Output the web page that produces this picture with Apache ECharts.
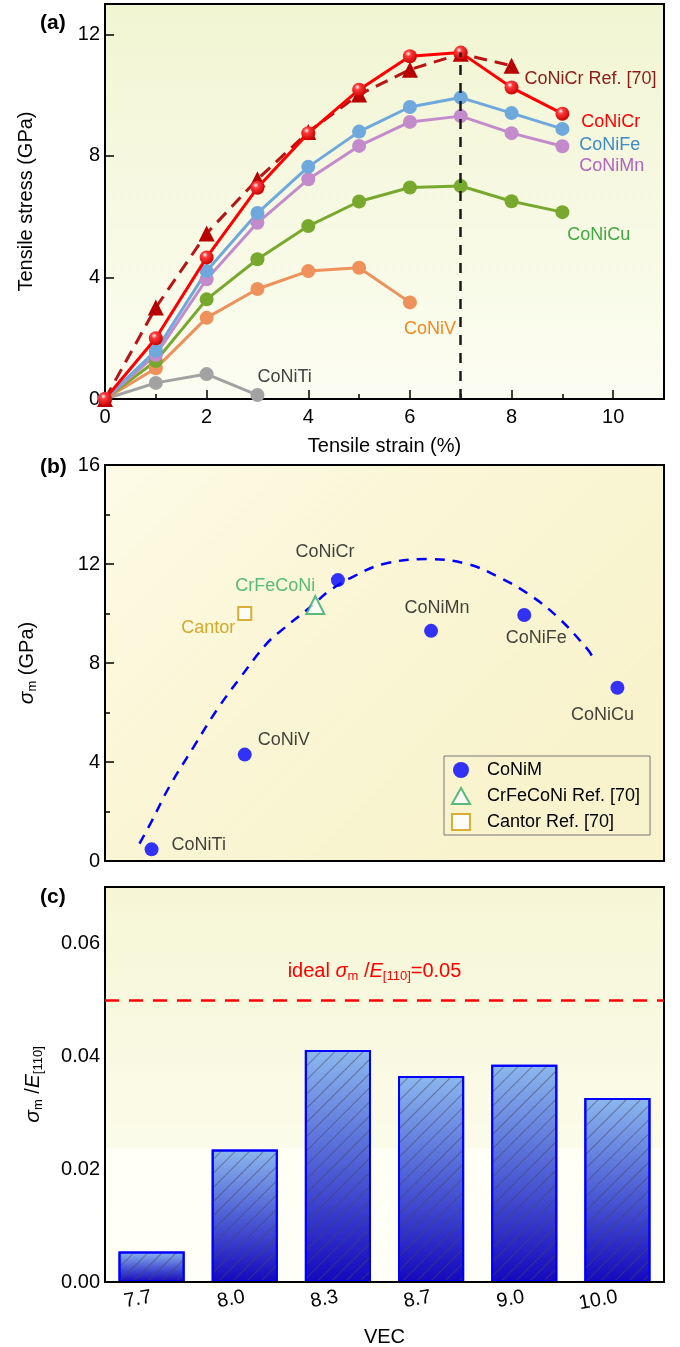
<!DOCTYPE html>
<html>
<head>
<meta charset="utf-8">
<script src="https://cdn.jsdelivr.net/npm/echarts@6/dist/echarts.min.js"></script>
<style>
  html, body { margin: 0; padding: 0; background: #ffffff; }
  #chart { width: 680px; height: 1347px; }
</style>
</head>
<body>
<div id="chart"></div>
<script>
// ---------- (a) tensile stress–strain curves ----------
const strain = [0, 1, 2, 3, 4, 5, 6, 7, 8, 9];
const stressCoNiCr    = [0, 2.00, 4.66, 6.95, 8.75, 10.18, 11.28, 11.40, 10.25, 9.39];
const stressCoNiCrRef = [0, 3.01, 5.45, 7.23, 8.79, 10.02, 10.84, 11.36, 10.97];
const stressCoNiFe    = [0, 1.59, 4.21, 6.12, 7.64, 8.80, 9.61, 9.92, 9.41, 8.89];
const stressCoNiMn    = [0, 1.45, 3.94, 5.80, 7.23, 8.33, 9.12, 9.31, 8.75, 8.32];
const stressCoNiCu    = [0, 1.25, 3.28, 4.60, 5.69, 6.50, 6.96, 7.01, 6.51, 6.15];
const stressCoNiV     = [0, 1.01, 2.67, 3.62, 4.21, 4.32, 3.18];
const stressCoNiTi    = [0, 0.53, 0.82, 0.13];
const peakStrain = 7;

// ---------- (b) maximum stress vs VEC ----------
const vecLabels = ['7.7', '8.0', '8.3', '8.7', '9.0', '10.0'];
const vecValues = [7.67, 8.0, 8.33, 8.67, 9.0, 10.0];
const alloyNames = ['CoNiTi', 'CoNiV', 'CoNiCr', 'CoNiMn', 'CoNiFe', 'CoNiCu'];
const sigmaMax = [0.47, 4.30, 11.35, 9.30, 9.94, 7.00];
const crFeCoNiVec = 8.25, crFeCoNiSigma = 10.34;
const cantorVec = 8.0, cantorSigma = 10.0;
// fitted trend, sampled along the VEC slots
const fitSlot  = [-0.13, 0.0, 0.19, 0.45, 0.70, 0.95, 1.24, 1.42, 1.75, 1.90, 2.17, 2.49, 2.96, 3.39, 3.71, 4.04, 4.36, 4.68, 4.74];
const fitSigma = [0.70, 1.60, 3.00, 4.60, 6.10, 7.40, 8.80, 9.40, 10.40, 10.90, 11.50, 12.00, 12.20, 12.00, 11.50, 10.80, 9.85, 8.55, 8.20];

// ---------- (c) sigma_m / E[110] ----------
const strengthRatio = [0.0054, 0.0235, 0.0411, 0.0365, 0.0385, 0.0326];
const idealRatio = 0.05;

const FONT = 'Arial, "Liberation Sans", Helvetica, sans-serif';

// position of a VEC value along the evenly spaced VEC slots
function vecSlot(v) {
  for (let i = 0; i < vecValues.length - 1; i++) {
    if (v <= vecValues[i + 1]) {
      return i + (v - vecValues[i]) / (vecValues[i + 1] - vecValues[i]);
    }
  }
  return vecValues.length - 1;
}

function grad(x2, y2, stops) {
  return { type: 'linear', x: 0, y: 0, x2: x2, y2: y2,
           colorStops: stops.map(s => ({ offset: s[0], color: s[1] })) };
}

const tickLine = { color: '#000', width: 1.5 };
const axisLineBlack = { show: true, onZero: false, lineStyle: { color: '#000', width: 2 } };
const noAxisLine = { show: false, onZero: false };
const tickLabel = { color: '#000', fontSize: 20, fontFamily: FONT };
const nameStyle = { color: '#000', fontSize: 20, fontFamily: FONT };
const subRich = {
  n: { color: '#000', fontSize: 20, fontFamily: FONT, lineHeight: 24 },
  i: { color: '#000', fontSize: 21, fontFamily: FONT, fontStyle: 'italic', lineHeight: 24 },
  s: { color: '#000', fontSize: 13, fontFamily: FONT, lineHeight: 14, padding: [10, 0, 0, 0] }
};

// ---------- (a) series ----------
const sphereRed = {
  type: 'radial', x: 0.38, y: 0.32, r: 0.7,
  colorStops: [
    { offset: 0, color: '#ffffff' },
    { offset: 0.28, color: '#ff3a3a' },
    { offset: 1, color: '#c80000' }
  ]
};

// curves with their name printed next to the last point
function curve(name, ys, cfg) {
  const data = ys.map((y, i) => [strain[i], y]);
  const last = data.length - 1;
  data[last] = {
    value: data[last],
    label: {
      show: true, position: 'right', distance: 0,
      offset: cfg.labelOffset, formatter: name,
      color: cfg.textColor, fontSize: 18, fontFamily: FONT
    }
  };
  return {
    type: 'line', name: name, xAxisIndex: 1, yAxisIndex: 0,
    data: data, symbol: cfg.symbol || 'circle', symbolSize: cfg.size || 14,
    showSymbol: true, clip: false,
    lineStyle: { color: cfg.color, width: 3, type: cfg.dash || 'solid' },
    itemStyle: { color: cfg.fill || cfg.color, borderWidth: 0 },
    emphasis: { disabled: true },
    z: cfg.z || 3
  };
}

const seriesA = [
  curve('CoNiTi', stressCoNiTi, { color: '#a2a2a2', textColor: '#444444', labelOffset: [-7, -18] }),
  curve('CoNiV', stressCoNiV, { color: '#ef915a', textColor: '#f5861f', labelOffset: [-13, 27] }),
  curve('CoNiCu', stressCoNiCu, { color: '#78a92e', textColor: '#3faa3f', labelOffset: [-2, 23] }),
  curve('CoNiMn', stressCoNiMn, { color: '#c38bcb', textColor: '#b064c0', labelOffset: [10, 20] }),
  curve('CoNiFe', stressCoNiFe, { color: '#6fa8dc', textColor: '#3d8bc9', labelOffset: [10, 16] }),
  curve('CoNiCr Ref. [70]', stressCoNiCrRef, { color: '#b81414', fill: '#b80000', textColor: '#8b1a1a',
        symbol: 'triangle', size: 16, dash: [13, 8], labelOffset: [5, 13] }),
  curve('CoNiCr', stressCoNiCr, { color: '#ff0000', fill: sphereRed, textColor: '#ff0000', labelOffset: [12, 8], z: 4 })
];

// vertical guide at the strain of peak stress
seriesA[0].markLine = {
  silent: true, symbol: 'none', animation: false,
  lineStyle: { color: '#1a1a1a', width: 2.5, type: [10, 8] },
  label: { show: false },
  data: [[{ coord: [peakStrain, 0] }, { coord: [peakStrain, Math.max(...stressCoNiCr)] }]]
};

// ---------- (b) series ----------
const pointLabelLayout = [
  { position: 'right', distance: 13, offset: [0, -4] },
  { position: 'right', distance: 6, offset: [0, -15] },
  { position: 'top', distance: 12, offset: [-13, 0] },
  { position: 'top', distance: 7, offset: [6, 0] },
  { position: 'bottom', distance: 7, offset: [12, 0] },
  { position: 'bottom', distance: 11, offset: [-15, 0] }
];

const seriesB = [
  {
    type: 'line', name: 'fit', xAxisIndex: 2, yAxisIndex: 1,
    data: fitSlot.map((x, i) => [x, fitSigma[i]]),
    smooth: 0.4, symbol: 'none', clip: false,
    lineStyle: { color: '#0000ff', width: 2.5, type: [10, 8] },
    emphasis: { disabled: true }, z: 2
  },
  {
    type: 'scatter', name: 'CoNiM', xAxisIndex: 2, yAxisIndex: 1,
    symbol: 'circle', symbolSize: 14,
    itemStyle: { color: '#0000ff' },
    data: sigmaMax.map((s, i) => ({
      value: [vecSlot(vecValues[i]), s],
      label: Object.assign({ show: true, formatter: alloyNames[i], color: '#111111',
                             fontSize: 18, fontFamily: FONT }, pointLabelLayout[i])
    })),
    emphasis: { disabled: true }, z: 4
  },
  {
    type: 'scatter', name: 'CrFeCoNi Ref. [70]', xAxisIndex: 2, yAxisIndex: 1,
    symbol: 'emptyTriangle', symbolSize: 18,
    itemStyle: { color: '#2faa64', borderWidth: 1.6 },
    data: [{
      value: [vecSlot(crFeCoNiVec), crFeCoNiSigma],
      label: { show: true, formatter: 'CrFeCoNi', position: 'top', distance: 0, offset: [-40, 0],
               color: '#2faa64', fontSize: 18, fontFamily: FONT }
    }],
    emphasis: { disabled: true }, z: 4
  },
  {
    type: 'scatter', name: 'Cantor Ref. [70]', xAxisIndex: 2, yAxisIndex: 1,
    symbol: 'emptyRect', symbolSize: 13,
    itemStyle: { color: '#d19b0a', borderWidth: 1.6 },
    data: [{
      value: [vecSlot(cantorVec), cantorSigma],
      label: { show: true, formatter: 'Cantor', position: 'left', distance: 2, offset: [0, 15],
               color: '#cc9400', fontSize: 18, fontFamily: FONT }
    }],
    emphasis: { disabled: true }, z: 4
  }
];

// ---------- (c) series ----------
const seriesC = [{
  type: 'bar', name: 'ratio', xAxisIndex: 4, yAxisIndex: 3,
  data: strengthRatio, barWidth: '71%',
  itemStyle: {
    color: grad(0, 1, [[0, '#8cb8ee'], [0.45, '#5468d8'], [1, '#1508bd']]),
    borderColor: '#0000ff', borderWidth: 2,
    decal: {
      symbol: 'rect', symbolSize: 1,
      dashArrayX: [1, 0], dashArrayY: [1, 8.5],
      rotation: -Math.PI / 4, color: 'rgba(70, 70, 90, 0.55)'
    }
  },
  emphasis: { disabled: true },
  markLine: {
    silent: true, symbol: 'none', animation: false,
    lineStyle: { color: '#ff0000', width: 2.5, type: [14, 10] },
    data: [{ yAxis: idealRatio }],
    label: {
      show: true, position: 'middle', distance: 16, offset: [-10, 0],
      formatter: '{n|ideal }{i|σ}{s|m}{n| /}{i|E}{s|[110]}{n|=' + idealRatio.toFixed(2) + '}',
      rich: {
        n: { color: '#ff0000', fontSize: 20, fontFamily: FONT, lineHeight: 24 },
        i: { color: '#ff0000', fontSize: 20, fontFamily: FONT, fontStyle: 'italic', lineHeight: 24 },
        s: { color: '#ff0000', fontSize: 13, fontFamily: FONT, lineHeight: 14, padding: [10, 0, 0, 0] }
      }
    }
  },
  z: 2
}];

const option = {
  animation: false,
  backgroundColor: '#ffffff',
  textStyle: { fontFamily: FONT },
  grid: [
    { left: 105, top: 4, width: 559, height: 395, show: true, borderColor: '#000', borderWidth: 2,
      outerBoundsMode: 'none', containLabel: false,
      backgroundColor: grad(0, 1, [[0, '#f1f5d2'], [1, '#fcfdf2']]) },
    { left: 105, top: 465, width: 559, height: 396, show: true, borderColor: '#000', borderWidth: 2,
      outerBoundsMode: 'none', containLabel: false,
      backgroundColor: grad(0.7, 1, [[0, '#fdfbe7'], [0.45, '#faf6d6'], [1, '#f8f3cc']]) },
    { left: 105, top: 887, width: 559, height: 395, show: true, borderColor: '#000', borderWidth: 2,
      outerBoundsMode: 'none', containLabel: false,
      backgroundColor: grad(0, 1, [[0, '#f6f6d6'], [0.66, '#fbfbea'], [0.661, '#fffff5'], [1, '#fffff9']]) }
  ],
  xAxis: [
    // (a) minor ticks every 1 %
    { gridIndex: 0, type: 'value', min: 0, max: 11, interval: 1, position: 'bottom',
      axisLine: noAxisLine, axisTick: { inside: true, length: 5, lineStyle: tickLine },
      axisLabel: { show: false }, splitLine: { show: false } },
    // (a) labelled strain axis
    { gridIndex: 0, type: 'value', min: 0, max: 11, interval: 2, position: 'bottom',
      axisLine: axisLineBlack, axisTick: { inside: true, length: 9, lineStyle: tickLine },
      axisLabel: Object.assign({ margin: 8, showMaxLabel: false }, tickLabel),
      splitLine: { show: false },
      name: 'Tensile strain (%)', nameLocation: 'middle', nameGap: 37, nameTextStyle: nameStyle },
    // (b) slot coordinate for the points
    { gridIndex: 1, type: 'value', min: -0.5, max: 5.5, show: false, position: 'bottom',
      axisLine: noAxisLine },
    // (b) VEC ticks
    { gridIndex: 1, type: 'category', data: vecLabels, position: 'bottom', boundaryGap: true,
      axisLine: axisLineBlack,
      axisTick: { inside: true, alignWithLabel: true, length: 9, lineStyle: tickLine },
      axisLabel: { show: false }, splitLine: { show: false } },
    // (c) VEC categories
    { gridIndex: 2, type: 'category', data: vecLabels, position: 'bottom', boundaryGap: true, z: 10,
      axisLine: axisLineBlack,
      axisTick: { inside: true, alignWithLabel: true, length: 9, lineStyle: tickLine },
      axisLabel: Object.assign({ rotate: 10, margin: 15 }, tickLabel),
      splitLine: { show: false },
      name: 'VEC', nameLocation: 'middle', nameGap: 45, nameTextStyle: nameStyle }
  ],
  yAxis: [
    { gridIndex: 0, type: 'value', min: 0, max: 13, interval: 4, position: 'left',
      axisLine: axisLineBlack, axisTick: { inside: true, length: 9, lineStyle: tickLine },
      axisLabel: Object.assign({ margin: 5, showMaxLabel: false }, tickLabel),
      splitLine: { show: false },
      name: 'Tensile stress (GPa)', nameLocation: 'middle', nameRotate: 90, nameGap: 69,
      nameTextStyle: nameStyle },
    { gridIndex: 1, type: 'value', min: 0, max: 16, interval: 4, position: 'left',
      axisLine: axisLineBlack, axisTick: { inside: true, length: 9, lineStyle: tickLine },
      minorTick: { show: true, splitNumber: 2, length: 5, lineStyle: tickLine },
      axisLabel: Object.assign({ margin: 5 }, tickLabel),
      splitLine: { show: false },
      name: '{i|σ}{s|m}{n| (GPa)}', nameLocation: 'middle', nameRotate: 90, nameGap: 66,
      nameTextStyle: { rich: subRich } },
    // (c) minor ticks
    { gridIndex: 2, type: 'value', min: 0, max: 0.07, interval: 0.01, position: 'left',
      axisLine: noAxisLine, axisTick: { inside: true, length: 5, lineStyle: tickLine },
      axisLabel: { show: false }, splitLine: { show: false } },
    // (c) labelled ratio axis
    { gridIndex: 2, type: 'value', min: 0, max: 0.07, interval: 0.02, position: 'left',
      axisLine: axisLineBlack, axisTick: { inside: true, length: 9, lineStyle: tickLine },
      axisLabel: Object.assign({ margin: 5, showMaxLabel: false, formatter: v => v.toFixed(2) }, tickLabel),
      splitLine: { show: false },
      name: '{i|σ}{s|m}{n| /}{i|E}{s|[110]}', nameLocation: 'middle', nameRotate: 90, nameGap: 60,
      nameTextStyle: { rich: subRich } }
  ],
  legend: {
    data: ['CoNiM', 'CrFeCoNi Ref. [70]', 'Cantor Ref. [70]'],
    orient: 'vertical', left: 444, top: 756,
    borderColor: '#777777', borderWidth: 1, borderRadius: 0,
    backgroundColor: 'transparent',
    padding: [5, 10, 4, 7], itemGap: 8, itemWidth: 18, itemHeight: 16,
    selectedMode: false,
    textStyle: { color: '#000', fontSize: 18, fontFamily: FONT, padding: [0, 0, 0, 12] }
  },
  graphic: [
    { type: 'text', left: 40, top: 13, style: { text: '(a)', font: 'bold 21px ' + FONT, fill: '#000' } },
    { type: 'text', left: 40, top: 457, style: { text: '(b)', font: 'bold 21px ' + FONT, fill: '#000' } },
    { type: 'text', left: 40, top: 887, style: { text: '(c)', font: 'bold 21px ' + FONT, fill: '#000' } }
  ],
  series: seriesA.concat(seriesB, seriesC)
};

const chart = echarts.init(document.getElementById('chart'), null, { renderer: 'canvas' });
chart.setOption(option);
</script>
</body>
</html>
